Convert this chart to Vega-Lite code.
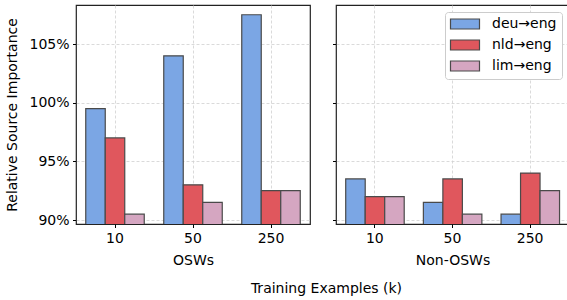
{
  "$schema": "https://vega.github.io/schema/vega-lite/v6.json",
  "padding": {"left": 5, "top": 4, "right": 1, "bottom": 4},
  "background": "white",
  "config": {
    "font": "DejaVu Sans",
    "view": {"stroke": "#222222", "strokeWidth": 1.2},
    "axis": {
      "labelFont": "DejaVu Sans", "labelFontSize": 14, "labelColor": "#000000",
      "titleFont": "DejaVu Sans", "titleFontSize": 14, "titleFontWeight": "normal", "titleColor": "#000000",
      "domain": false, "tickColor": "#000000", "tickSize": 3.5, "tickWidth": 1,
      "gridColor": "#d0d0d0", "gridDash": [3, 2], "gridWidth": 0.8, "labelPadding": 3.5
    },
    "concat": {"spacing": 20}
  },
  "datasets": {
    "d": [
      {"panel": "OSWs", "k": "10", "pair": "deu→eng", "value": 0.995},
      {"panel": "OSWs", "k": "10", "pair": "nld→eng", "value": 0.970},
      {"panel": "OSWs", "k": "10", "pair": "lim→eng", "value": 0.905},
      {"panel": "OSWs", "k": "50", "pair": "deu→eng", "value": 1.040},
      {"panel": "OSWs", "k": "50", "pair": "nld→eng", "value": 0.930},
      {"panel": "OSWs", "k": "50", "pair": "lim→eng", "value": 0.915},
      {"panel": "OSWs", "k": "250", "pair": "deu→eng", "value": 1.075},
      {"panel": "OSWs", "k": "250", "pair": "nld→eng", "value": 0.925},
      {"panel": "OSWs", "k": "250", "pair": "lim→eng", "value": 0.925},
      {"panel": "Non-OSWs", "k": "10", "pair": "deu→eng", "value": 0.935},
      {"panel": "Non-OSWs", "k": "10", "pair": "nld→eng", "value": 0.920},
      {"panel": "Non-OSWs", "k": "10", "pair": "lim→eng", "value": 0.920},
      {"panel": "Non-OSWs", "k": "50", "pair": "deu→eng", "value": 0.915},
      {"panel": "Non-OSWs", "k": "50", "pair": "nld→eng", "value": 0.935},
      {"panel": "Non-OSWs", "k": "50", "pair": "lim→eng", "value": 0.905},
      {"panel": "Non-OSWs", "k": "250", "pair": "deu→eng", "value": 0.905},
      {"panel": "Non-OSWs", "k": "250", "pair": "nld→eng", "value": 0.940},
      {"panel": "Non-OSWs", "k": "250", "pair": "lim→eng", "value": 0.925}
    ]
  },
  "hconcat": [
    {
      "width": 234, "height": 219,
      "data": {"name": "d"},
      "transform": [{"filter": "datum.panel === 'OSWs'"}],
      "mark": {"type": "bar", "clip": true, "stroke": "#4a4a4a", "strokeWidth": 1.2},
      "encoding": {
        "x": {"field": "k", "type": "nominal", "sort": ["10", "50", "250"],
          "scale": {"paddingInner": 0.25, "paddingOuter": 0.125},
          "axis": {"title": "OSWs", "labelAngle": 0, "bandPosition": 0.5, "grid": true, "titlePadding": 8}},
        "xOffset": {"field": "pair", "type": "nominal", "sort": ["deu→eng", "nld→eng", "lim→eng"]},
        "y": {"field": "value", "type": "quantitative",
          "scale": {"domain": [0.8966, 1.0833], "zero": false, "nice": false},
          "axis": {"title": "Relative Source Importance", "format": ".0%", "values": [0.90, 0.95, 1.00, 1.05], "grid": true, "titlePadding": 9}},
        "color": {"field": "pair", "type": "nominal", "sort": ["deu→eng", "nld→eng", "lim→eng"],
          "scale": {"domain": ["deu→eng", "nld→eng", "lim→eng"], "range": ["#7ba6e4", "#e0575d", "#d5a6c1"]},
          "legend": null}
      }
    },
    {
      "width": 233, "height": 219,
      "data": {"name": "d"},
      "transform": [{"filter": "datum.panel === 'Non-OSWs'"}],
      "mark": {"type": "bar", "clip": true, "stroke": "#4a4a4a", "strokeWidth": 1.2},
      "encoding": {
        "x": {"field": "k", "type": "nominal", "sort": ["10", "50", "250"],
          "scale": {"paddingInner": 0.25, "paddingOuter": 0.125},
          "axis": {"title": "Non-OSWs", "labelAngle": 0, "bandPosition": 0.5, "grid": true, "titlePadding": 8}},
        "xOffset": {"field": "pair", "type": "nominal", "sort": ["deu→eng", "nld→eng", "lim→eng"]},
        "y": {"field": "value", "type": "quantitative",
          "scale": {"domain": [0.8966, 1.0833], "zero": false, "nice": false},
          "axis": {"title": null, "labels": false, "values": [0.90, 0.95, 1.00, 1.05], "grid": true}},
        "color": {"field": "pair", "type": "nominal", "sort": ["deu→eng", "nld→eng", "lim→eng"],
          "scale": {"domain": ["deu→eng", "nld→eng", "lim→eng"], "range": ["#7ba6e4", "#e0575d", "#d5a6c1"]},
          "legend": {
            "title": null, "orient": "top-right", "offset": 7,
            "labelFont": "DejaVu Sans", "labelFontSize": 14, "labelColor": "#000000",
            "symbolType": "M-2.9,-1H2.9V1H-2.9Z", "symbolSize": 100,
            "symbolStrokeColor": "#4a4a4a", "symbolStrokeWidth": 1.2, "symbolOpacity": 1,
            "symbolOffset": 8, "labelOffset": 20,
            "rowPadding": 5, "padding": 5,
            "fillColor": "white", "strokeColor": "#cccccc", "cornerRadius": 3
          }}
      }
    }
  ],
  "resolve": {"legend": {"color": "independent"}, "scale": {"color": "independent"}},
  "title": {"text": "Training Examples (k)", "orient": "bottom", "anchor": "middle", "frame": "bounds", "dx": 39,
    "font": "DejaVu Sans", "fontSize": 14, "fontWeight": "normal", "color": "#000000", "offset": 14}
}
